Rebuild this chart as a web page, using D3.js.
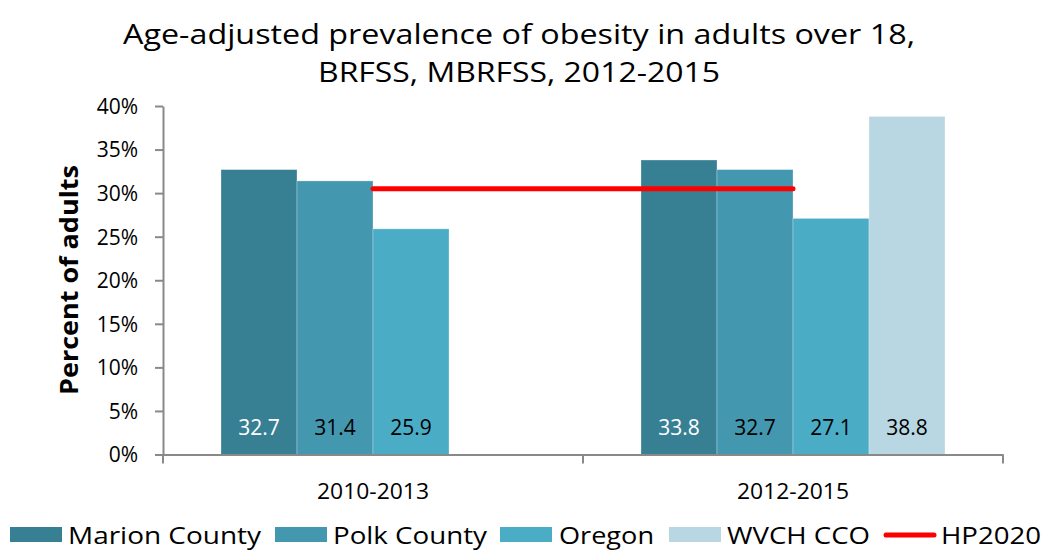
<!DOCTYPE html>
<html><head><meta charset="utf-8">
<script src="https://cdn.jsdelivr.net/npm/d3@7"></script>
<style>body{margin:0;background:#fff}svg{display:block}text{font-family:"Open Sans",sans-serif}</style>
</head><body><svg id="c" width="1048" height="551"></svg>
<script>
const categories = ["2010-2013", "2012-2015"];
const seriesNames = ["Marion County", "Polk County", "Oregon", "WVCH CCO"];
const marion = [32.7, 33.8];
const polk = [31.4, 32.7];
const oregon = [25.9, 27.1];
const wvch = [null, 38.8];
const hp2020 = [30.5, 30.5];
const yTicks = [0, 5, 10, 15, 20, 25, 30, 35, 40];
const colors = ["#378094", "#4397AF", "#4BACC6", "#B9D7E3"];
const labelColors = ["#ffffff", "#000000", "#000000", "#000000"];
const seriesValues = [marion, polk, oregon, wvch];

const svg = d3.select("#c");
const pL = 163, pR = 1003, pT = 106, pB = 454.5;

const x0 = d3.scaleBand().domain(categories).range([pL, pR]).paddingInner(0).paddingOuter(0);
const x1 = d3.scaleBand().domain(seriesNames).range([0, x0.bandwidth()]).paddingInner(0).paddingOuter(0.763);
const y = d3.scaleLinear().domain([0, 40]).range([pB, pT]);

// title
const title = svg.append("g");
[["Age-adjusted prevalence of obesity in adults over 18,", 44, 792], ["BRFSS, MBRFSS, 2012-2015", 82, 402]].forEach(([t, yy, w]) => {
  title.append("text").attr("x", 519).attr("y", yy).attr("text-anchor", "middle")
    .attr("font-size", 27.5).attr("textLength", w).attr("lengthAdjust", "spacingAndGlyphs").attr("fill", "#000").text(t);
});

// bars
const groups = svg.append("g");
categories.forEach((cat, ci) => {
  seriesNames.forEach((s, si) => {
    const v = seriesValues[si][ci];
    if (v == null) return;
    const bx = x0(cat) + x1(s);
    groups.append("rect").attr("x", bx).attr("y", y(v)).attr("width", x1.bandwidth()).attr("height", pB - y(v))
      .attr("fill", colors[si]).attr("stroke", "rgba(255,255,255,0.35)").attr("stroke-width", 0.8);
  });
});

// HP2020 line
const line = d3.line().x((d, i) => x0(categories[i]) + x0.bandwidth() / 2).y(d => y(d));
svg.append("path").datum(hp2020).attr("d", line).attr("fill", "none").attr("stroke", "#FF0000")
  .attr("stroke-width", 5).attr("stroke-linecap", "round");

// data labels
categories.forEach((cat, ci) => {
  seriesNames.forEach((s, si) => {
    const v = seriesValues[si][ci];
    if (v == null) return;
    svg.append("text").attr("x", x0(cat) + x1(s) + x1.bandwidth() / 2).attr("y", 435)
      .attr("text-anchor", "middle").attr("font-size", 21).attr("fill", labelColors[si]).text(v.toFixed(1));
  });
});

// y axis
const yAxis = d3.axisLeft(y).tickValues(yTicks).tickFormat(d => d + "%").tickSizeInner(8).tickSizeOuter(0).tickPadding(17);
const ga = svg.append("g").attr("transform", `translate(${pL},0)`).call(yAxis);
ga.select(".domain").attr("stroke", "#898989").attr("stroke-width", 2);
ga.selectAll(".tick line").attr("stroke", "#898989").attr("stroke-width", 2);
ga.selectAll(".tick text").attr("font-size", 21).attr("fill", "#000").attr("font-family", "Open Sans").attr("dy", "0.35em");

// x axis
const xAxis = d3.axisBottom(x0).tickSize(0).tickPadding(30);
const gx = svg.append("g").attr("transform", `translate(0,${pB})`).call(xAxis);
gx.select(".domain").attr("stroke", "#898989").attr("stroke-width", 2);
gx.selectAll(".tick text").attr("font-size", 21).attr("fill", "#000").attr("font-family", "Open Sans")
  .attr("dy", null).attr("y", 44.5).attr("textLength", 112).attr("lengthAdjust", "spacingAndGlyphs");
const bounds = [pL, x0(categories[1]), pR];
gx.selectAll(".bt").data(bounds).enter().append("line").attr("class", "bt")
  .attr("x1", d => d).attr("x2", d => d).attr("y1", 0).attr("y2", 9).attr("stroke", "#898989").attr("stroke-width", 2);

// y title
svg.append("text").attr("transform", "translate(78,280) rotate(-90)").attr("text-anchor", "middle")
  .attr("font-size", 25).attr("font-weight", "bold").attr("fill", "#000").attr("textLength", 230).attr("lengthAdjust", "spacingAndGlyphs").text("Percent of adults");

// legend
const legend = svg.append("g");
const legItems = [
  {name: seriesNames[0], sx: 10, tx: 68, tw: 193, type: "rect", c: colors[0]},
  {name: seriesNames[1], sx: 275, tx: 333, tw: 154, type: "rect", c: colors[1]},
  {name: seriesNames[2], sx: 500, tx: 559, tw: 95, type: "rect", c: colors[2]},
  {name: seriesNames[3], sx: 669, tx: 727, tw: 143, type: "rect", c: colors[3]},
  {name: "HP2020", sx: 883, tx: 941, tw: 100, type: "line", c: "#FF0000"}
];
legItems.forEach(it => {
  if (it.type === "rect") {
    legend.append("rect").attr("x", it.sx).attr("y", 527).attr("width", 52).attr("height", 15).attr("fill", it.c);
  } else {
    legend.append("line").attr("x1", it.sx + 3).attr("x2", it.sx + 51).attr("y1", 535).attr("y2", 535)
      .attr("stroke", it.c).attr("stroke-width", 5).attr("stroke-linecap", "round");
  }
  legend.append("text").attr("x", it.tx).attr("y", 544).attr("font-size", 24).attr("fill", "#000")
    .attr("textLength", it.tw).attr("lengthAdjust", "spacingAndGlyphs").text(it.name);
});
</script></body></html>
